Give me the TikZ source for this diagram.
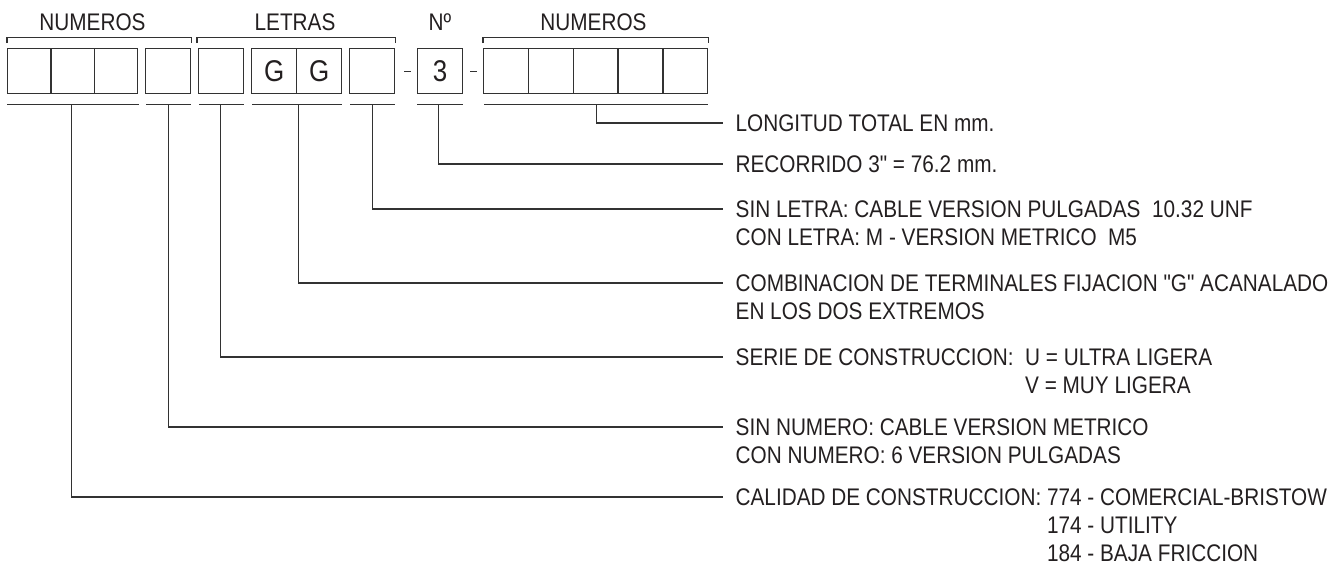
\documentclass[tikz,border=0pt]{standalone}
\usepackage{fontspec}
\setmainfont{Liberation Sans}[FakeStretch=0.865,Ligatures=TeXOff]
\usetikzlibrary{calc}
\definecolor{ink}{RGB}{35,31,32}
\definecolor{ln}{RGB}{50,50,50}
\begin{document}
\begin{tikzpicture}[x=1pt,y=-1pt,line width=1.3pt,
  cell/.style={draw=ln,line width=1.3pt,minimum width=45pt,minimum height=45pt,inner sep=0pt,anchor=north west,text=ink,font=\fontsize{30}{30}\selectfont},
  narrowcell/.style={cell,minimum width=43.3pt},
  lbl/.style={font=\fontsize{24}{28}\selectfont,text=ink,inner sep=0pt},
  desc/.style={lbl,anchor=base west},
  wire/.style={draw=ln,line width=1.3pt}]
\useasboundingbox (0,0) rectangle (1331,568);
% cells
\node[narrowcell] (c1) at (7,48) {};
\node[narrowcell] (c2) at (50.3,48) {};
\node[narrowcell] (c3) at (93.6,48) {};
\node[cell] (c4) at (145,48) {};
\node[cell] (c5) at (198,48) {};
\node[cell] (c6) at (251,48) {G};
\node[cell] (c7) at (296,48) {G};
\node[cell] (c8) at (349,48) {};
\node[cell] (c9) at (417,48) {3};
\node[cell] (c10) at (483,48) {};
\node[cell] (c11) at (527.8,48) {};
\node[cell] (c12) at (572.6,48) {};
\node[cell] (c13) at (617.4,48) {};
\node[cell] (c14) at (662,48) {};
% dashes
\draw[wire] ($(c8.east)+(9,0)$) -- ($(c9.west)+(-6,0)$);
\draw[wire] ($(c9.east)+(7,0)$) -- ($(c10.west)+(-6,0)$);
% brackets
\draw[wire] ($(c1.north west)+(0,-5)$) -- ($(c1.north west)+(0,-10.5)$) -- ($(c4.north east)+(0,-10.5)$) -- ($(c4.north east)+(0,-5)$);
\draw[wire] ($(c5.north west)+(-1,-5)$) -- ($(c5.north west)+(-1,-10.5)$) -- ($(c8.north east)+(0,-10.5)$) -- ($(c8.north east)+(0,-5)$);
\draw[wire] ($(c10.north west)+(0,-5)$) -- ($(c10.north west)+(0,-10.5)$) -- ($(c14.north east)+(0,-10.5)$) -- ($(c14.north east)+(0,-5)$);
% top labels
\node[lbl,anchor=base] (h1) at (92.5,30) {NUMEROS};
\node[lbl,anchor=base] (h2) at (295,30) {LETRAS};
\node[lbl,anchor=base] (h3) at (440,30) {Nº};
\node[lbl,anchor=base] (h4) at (593.5,30) {NUMEROS};
% underlines
\draw[wire] ($(c1.south west)+(0,10.5)$) -- ($(c3.south east)+(1,10.5)$);
\draw[wire] ($(c4.south west)+(1,10.5)$) -- ($(c4.south east)+(0,10.5)$);
\draw[wire] ($(c5.south west)+(1,10.5)$) -- ($(c5.south east)+(0,10.5)$);
\draw[wire] ($(c6.south west)+(1,10.5)$) -- ($(c7.south east)+(0,10.5)$);
\draw[wire] ($(c8.south west)+(1,10.5)$) -- ($(c8.south east)+(0,10.5)$);
\draw[wire] ($(c9.south west)+(0,10.5)$) -- ($(c9.south east)+(0,10.5)$);
\draw[wire] ($(c10.south west)+(1,10.5)$) -- ($(c14.south east)+(0,10.5)$);
% leader ends
\coordinate (e1) at (723,123);
\coordinate (e2) at (723,164);
\coordinate (e3) at (723,209);
\coordinate (e4) at (723,283);
\coordinate (e5) at (723,357);
\coordinate (e6) at (723,427);
\coordinate (e7) at (723,497);
% stems and leaders
\draw[wire] ($(c12.south)+(1,10.5)$) |- (e1);
\draw[wire] ($(c9.south)+(-1.5,10.5)$) |- (e2);
\draw[wire] ($(c8.south)+(0.5,10.5)$) |- (e3);
\draw[wire] ($(c6.south east)+(1,10.5)$) |- (e4);
\draw[wire] ($(c5.south)+(-0.5,10.5)$) |- (e5);
\draw[wire] ($(c4.south)+(0.5,10.5)$) |- (e6);
\draw[wire] ($(c2.south)+(-1,10.5)$) |- (e7);
% descriptions
\node[desc] (d1) at ($(e1)+(12,8.5)$) {LONGITUD TOTAL EN mm.};
\node[desc] (d2) at ($(e2)+(12,8.5)$) {RECORRIDO 3" = 76.2 mm.};
\node[desc] (d3) at ($(e3)+(12,8.5)$) {SIN LETRA: CABLE VERSION PULGADAS\ \ 10.32 UNF};
\node[desc] (d3b) at ($(d3.base west)+(0,28)$) {CON LETRA: M - VERSION METRICO\ \ M5};
\node[desc] (d4) at ($(e4)+(12,8.5)$) {COMBINACION DE TERMINALES FIJACION "G" ACANALADO};
\node[desc] (d4b) at ($(d4.base west)+(0,28)$) {EN LOS DOS EXTREMOS};
\node[desc] (d5) at ($(e5)+(12,8.5)$) {SERIE DE CONSTRUCCION:\ \ U = ULTRA LIGERA};
\node[desc] (d5b) at ($(d5.base west)+(0,28)$) {\phantom{SERIE DE CONSTRUCCION:\ \ }V = MUY LIGERA};
\node[desc] (d6) at ($(e6)+(12,8.5)$) {SIN NUMERO: CABLE VERSION METRICO};
\node[desc] (d6b) at ($(d6.base west)+(0,28)$) {CON NUMERO: 6 VERSION PULGADAS};
\node[desc] (d7) at ($(e7)+(12,8.5)$) {CALIDAD DE CONSTRUCCION: 774 - COMERCIAL-BRISTOW};
\node[desc] (d7b) at ($(d7.base west)+(0,28)$) {\phantom{CALIDAD DE CONSTRUCCION: }174 - UTILITY};
\node[desc] (d7c) at ($(d7b.base west)+(0,28)$) {\phantom{CALIDAD DE CONSTRUCCION: }184 - BAJA FRICCION};
\end{tikzpicture}
\end{document}
